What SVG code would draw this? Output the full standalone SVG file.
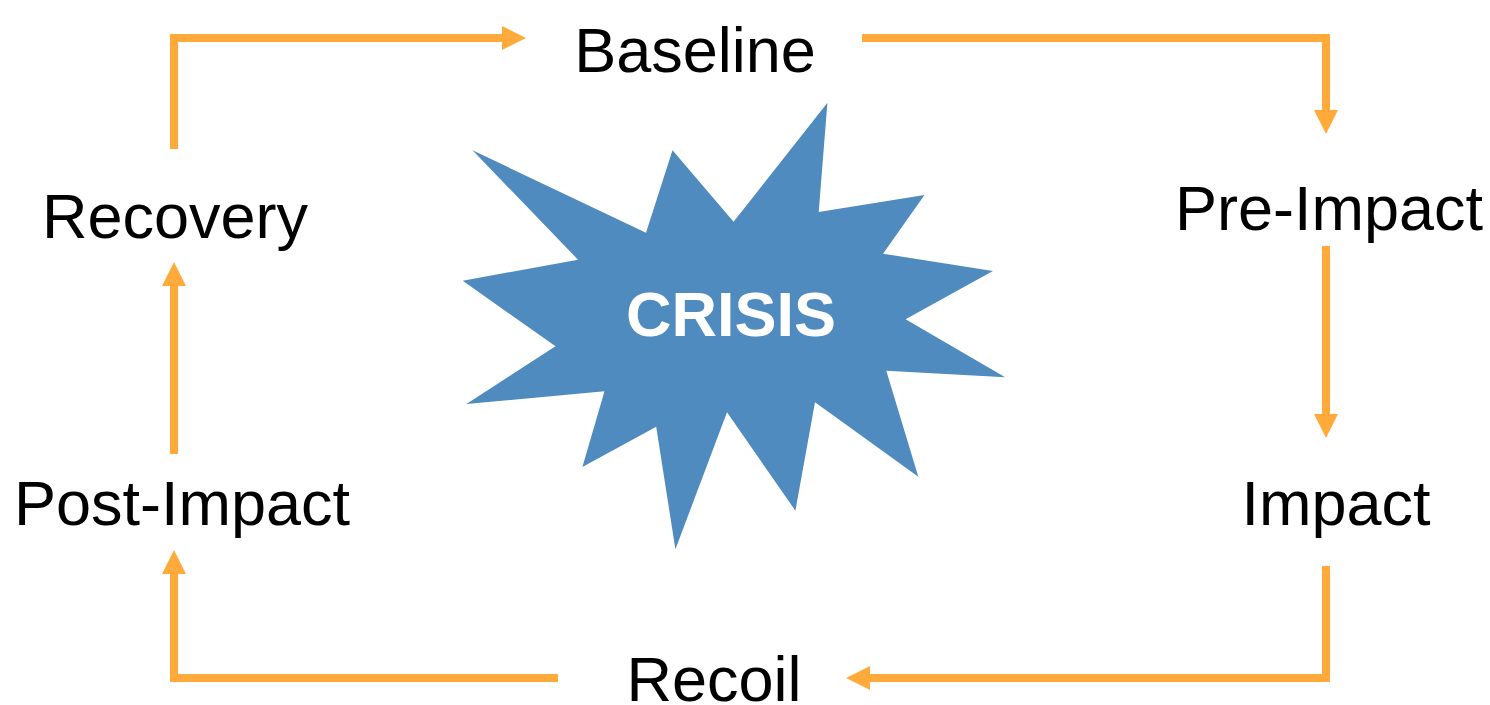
<svg xmlns="http://www.w3.org/2000/svg" width="1490" height="705" viewBox="0 0 1490 705">
  <style>
    .lbl { font-family: "Liberation Sans", Arial, sans-serif; font-size: 63px; fill: #000; text-anchor: middle; }
    .crisis { font-family: "Liberation Sans", Arial, sans-serif; font-size: 63px; font-weight: bold; fill: #fff; text-anchor: middle; }
    .conn { fill: none; stroke: #FFAA3A; stroke-width: 8; stroke-linejoin: miter; marker-end: url(#head); }
  </style>
  <defs>
    <marker id="head" markerUnits="userSpaceOnUse" markerWidth="24" markerHeight="24" refX="0" refY="12" orient="auto" viewBox="0 0 24 24">
      <path d="M0,0 L24,12 L0,24 Z" fill="#FFAA3A"/>
    </marker>
  </defs>
  <rect width="1490" height="705" fill="#fff"/>
  <g id="crisis">
    <polygon fill="#4F8BBF" points="472.5,150.3 578,259.7 462.7,280.7 555.5,346.3 466.4,404 604.5,391.3 582.4,467 656.2,426.7 675.4,549.3 727,412.3 795.4,510.7 815,402.3 918.3,476.7 886.3,370.7 1005.2,377.3 905.6,319.3 992.9,271 883,253.7 924.5,195 818.7,212 827.4,102.7 733.6,221.7 672.5,150.3 646,232.7"/>
    <text class="crisis" x="731" y="336">CRISIS</text>
  </g>
  <g id="baseline"><text class="lbl" x="695" y="72">Baseline</text></g>
  <g id="pre-impact"><text class="lbl" x="1329" y="230">Pre-Impact</text></g>
  <g id="impact"><text class="lbl" x="1336" y="525">Impact</text></g>
  <g id="recoil"><text class="lbl" x="714" y="701">Recoil</text></g>
  <g id="post-impact"><text class="lbl" x="182" y="525">Post-Impact</text></g>
  <g id="recovery"><text class="lbl" x="175" y="238">Recovery</text></g>
  <g id="connectors">
    <path class="conn" d="M174,149 V38 H502"/>
    <path class="conn" d="M862,38 H1326 V110"/>
    <path class="conn" d="M1326,246 V414"/>
    <path class="conn" d="M1326,566 V678 H870"/>
    <path class="conn" d="M558,678 H174 V574"/>
    <path class="conn" d="M174,454 V286"/>
  </g>
</svg>
